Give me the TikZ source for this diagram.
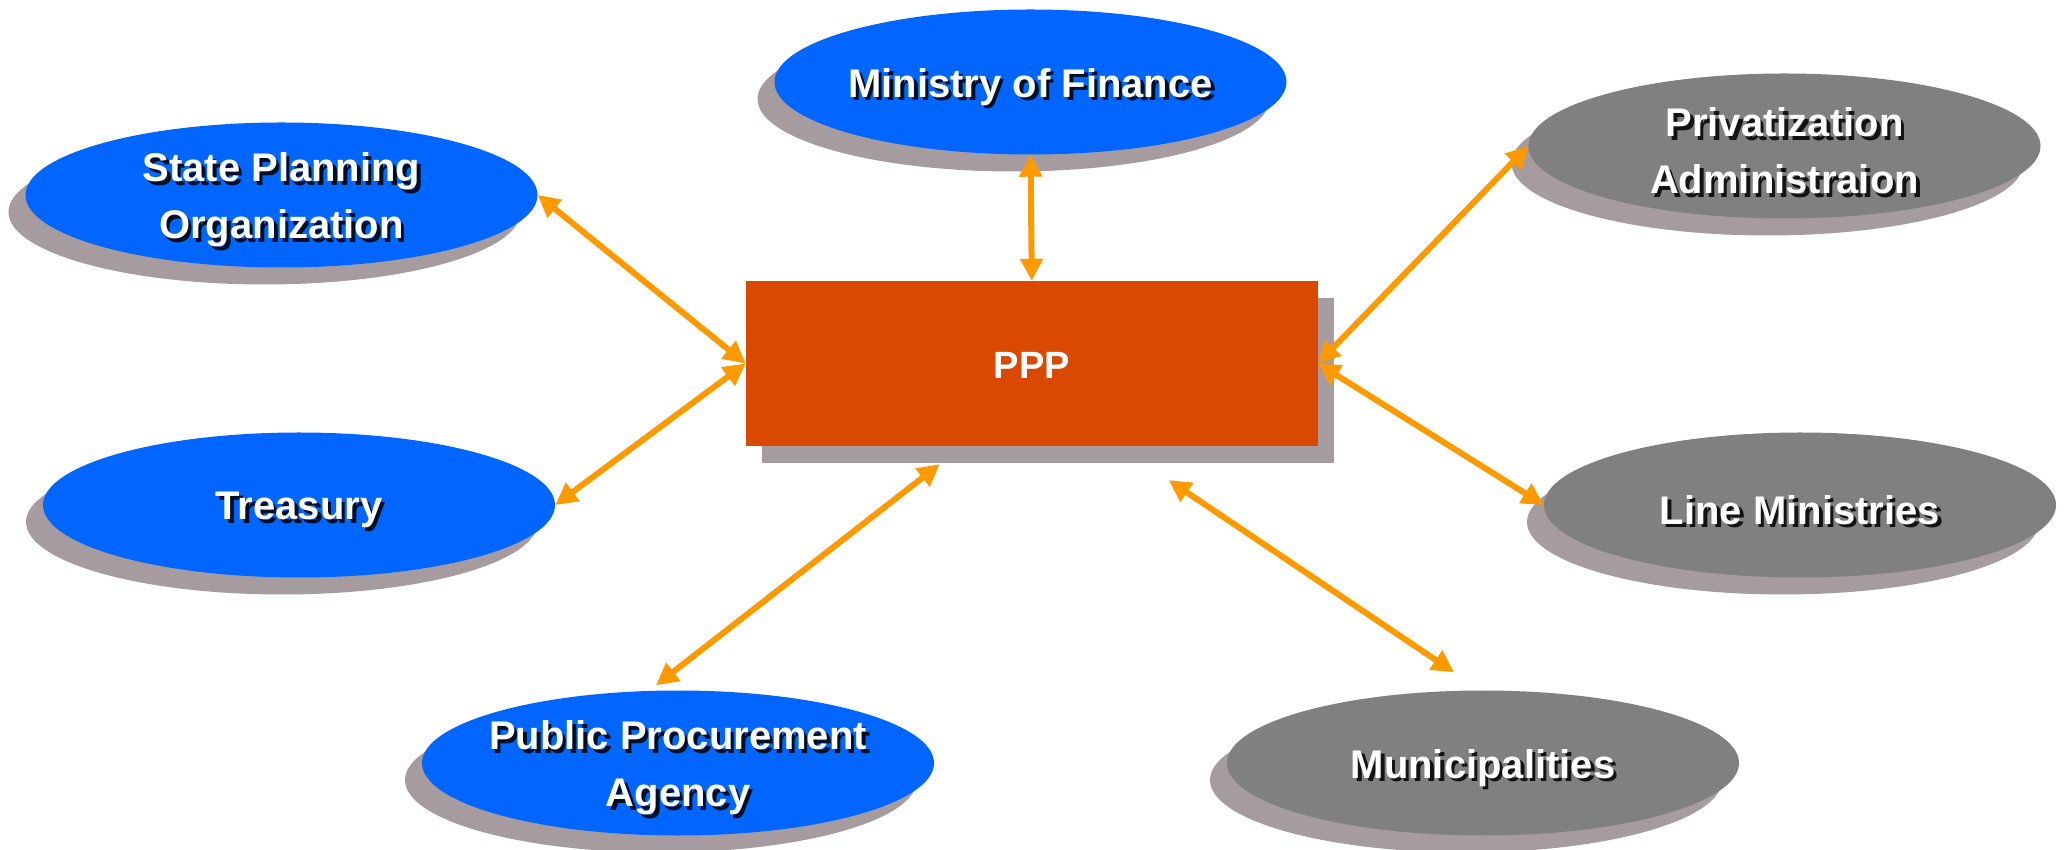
\documentclass[tikz,border=0pt]{standalone}
\usepackage{fontspec}
\setmainfont{Liberation Sans}
\usetikzlibrary{shapes.geometric,calc,arrows.meta}
\definecolor{ellblue}{HTML}{0066FF}
\definecolor{ellgray}{HTML}{808080}
\definecolor{shadowc}{HTML}{A69C9F}
\definecolor{pppred}{HTML}{D94A00}
\definecolor{arrowc}{HTML}{FF9900}
\tikzset{
  ellbase/.style={ellipse, minimum width=512pt, minimum height=145pt, inner sep=0pt, draw=none},
  ellshadow/.style={ellbase, fill=shadowc},
  lab/.style={text=white, align=center, font=\fontsize{40}{57}\selectfont\bfseries, inner sep=0pt},
  labshadow/.style={lab, text=black, opacity=0.85},
  pppbox/.style={rectangle, fill=pppred, minimum width=572pt, minimum height=165pt, inner sep=0pt},
  ppptext/.style={text=white, font=\fontsize{38}{44}\selectfont\bfseries, inner sep=0pt},
  boxshadow/.style={rectangle, fill=shadowc, minimum width=572pt, minimum height=165pt, inner sep=0pt},
  link/.style={draw=arrowc, line width=6pt, {Triangle[length=22pt,width=22pt]}-{Triangle[length=22pt,width=22pt]}}
}
\newcommand{\ellnode}[4]{%
  \node[ellshadow] at ($(#2)+(-17,-17)$) {};
  \node[ellbase, fill=#3] (#1) at (#2) {};
  \node[labshadow] at ($(#1.center)+(3.5,-8.5)$) {#4};
  \node[lab] at ($(#1.center)+(0,-5)$) {#4};
}
\begin{document}
\begin{tikzpicture}[x=1pt,y=1pt]
\useasboundingbox (0,0) rectangle (2069,849);
\fill[white] (0,0) rectangle (2069,849);
\coordinate (cmof) at (1030.5,767);
\coordinate (cspo) at (281.5,654);
\coordinate (cpriv) at (1784.5,703);
\coordinate (ctre) at (299,344);
\coordinate (cline) at (1800,344);
\coordinate (cppa) at (678,86);
\coordinate (cmuni) at (1483,86);
\coordinate (cppp) at (1031.8,485.5);
% PPP box
\node[boxshadow] at ($(cppp)+(16,-17)$) {};
\node[pppbox] (ppp) at (cppp) {};
\node[ppptext] at ($(ppp.center)+(0,-2)$) {PPP};
% ellipses
\ellnode{mof}{cmof}{ellblue}{Ministry of Finance}
\ellnode{spo}{cspo}{ellblue}{State Planning\\Organization}
\ellnode{priv}{cpriv}{ellgray}{Privatization\\Administraion}
\ellnode{tre}{ctre}{ellblue}{Treasury}
\ellnode{line}{cline}{ellgray}{Line Ministries}
\ellnode{ppa}{cppa}{ellblue}{Public Procurement\\Agency}
\ellnode{muni}{cmuni}{ellgray}{Municipalities}
% free ends
\coordinate (ppaTop) at ($(ppa.north)+(-22,5)$);
\coordinate (muniTop) at ($(muni.north)+(-29,18)$);
\coordinate (pppA) at ($(ppp.south)+(-92,-18)$);
\coordinate (pppB) at ($(ppp.south)+(137,-34)$);
% connectors
\draw[link] (mof.south) -- (ppp.north);
\draw[link] (spo.east) -- (ppp.west);
\draw[link] (tre.east) -- (ppp.west);
\draw[link] (priv.west) -- (ppp.east);
\draw[link] (line.west) -- (ppp.east);
\draw[link] (ppaTop) -- (pppA);
\draw[link] (muniTop) -- (pppB);
\end{tikzpicture}
\end{document}
